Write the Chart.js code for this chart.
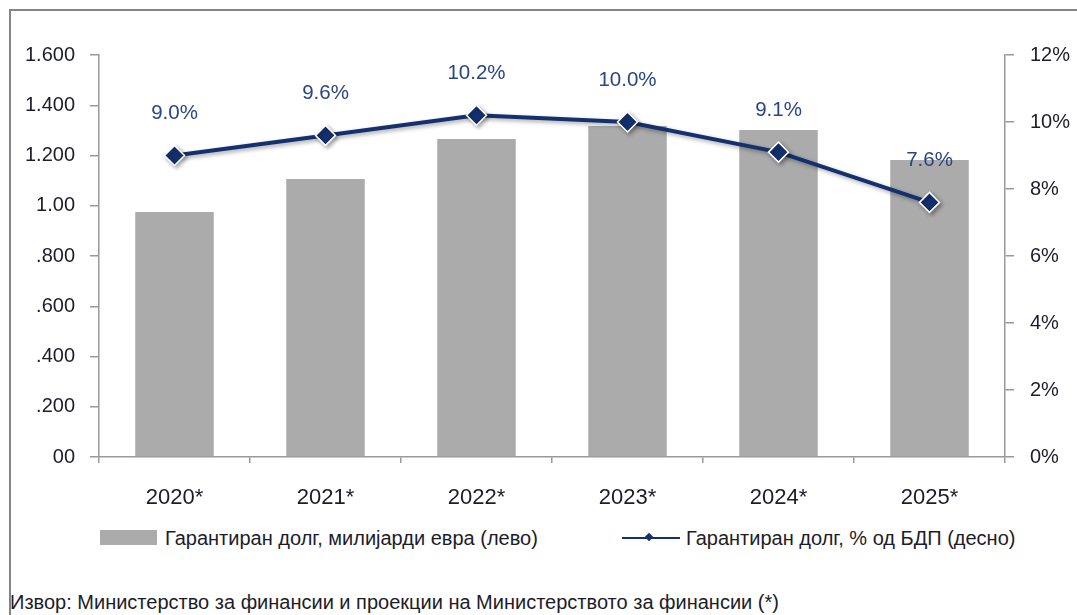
<!DOCTYPE html>
<html>
<head>
<meta charset="utf-8">
<script src="https://cdn.jsdelivr.net/npm/chart.js@4/dist/chart.umd.min.js"></script>
<style>
  body { margin: 0; background: #fff; width: 1077px; height: 615px; overflow: hidden; position: relative; }
  #frame { position: absolute; left: 9px; top: 9px; width: 1100px; height: 700px; border-left: 2px solid #858585; border-top: 2px solid #858585; }
  #chartDolg { position: absolute; left: 0; top: 0; }
  .txt { position: absolute; font-family: 'Liberation Sans Narrow', 'Liberation Sans', Arial, sans-serif; color: #1c1c2a; white-space: nowrap; }
  .swatch { position: absolute; }
</style>
</head>
<body>
<div id="frame"></div>
<canvas id="chartDolg" width="1077" height="517"></canvas>

<div class="swatch" style="left:100px;top:530px;width:57px;height:15px;background:#ababab;"></div>
<div class="txt" id="leg1" style="left:165px;top:527px;font-size:20px;">Гарантиран долг, милијарди евра (лево)</div>
<div class="swatch" style="left:622px;top:537px;width:58px;height:2px;background:#14306e;"></div>
<div class="swatch" style="left:646px;top:534px;width:6px;height:6px;background:#14306e;transform:rotate(45deg);"></div>
<div class="txt" id="leg2" style="left:686px;top:527px;font-size:20px;">Гарантиран долг, % од БДП (десно)</div>
<div class="txt" id="src" style="left:10px;top:591px;font-size:20px;">Извор: Министерство за финансии и проекции на Министерството за финансии (*)</div>

<script>
var years = ["2020*", "2021*", "2022*", "2023*", "2024*", "2025*"];
var dolgEvra = [975, 1106, 1266, 1317, 1301, 1182];
var dolgBdp = [9.0, 9.6, 10.2, 10.0, 9.1, 7.6];
var leftTicks = ["00", ".200", ".400", ".600", ".800", "1.00", "1.200", "1.400", "1.600"];

var fontFam = "'Liberation Sans Narrow', 'Liberation Sans', Arial, sans-serif";
var navy = "#14306e";

// labels above the points + soft shadow under the line
var pointLabels = {
  id: 'pointLabels',
  beforeDatasetDraw: function(chart, args) {
    if (args.index === 1) {
      var ctx = chart.ctx;
      ctx.save();
      ctx.shadowColor = 'rgba(0,0,0,0.35)';
      ctx.shadowBlur = 4;
      ctx.shadowOffsetX = 2;
      ctx.shadowOffsetY = 2;
    }
  },
  afterDatasetDraw: function(chart, args) {
    if (args.index === 1) chart.ctx.restore();
  },
  afterDatasetsDraw: function(chart) {
    var ctx = chart.ctx;
    var meta = chart.getDatasetMeta(1);
    ctx.save();
    ctx.font = "20.5px " + fontFam;
    ctx.fillStyle = "#2a4584";
    ctx.textAlign = "center";
    ctx.textBaseline = "middle";
    meta.data.forEach(function(pt, i) {
      ctx.fillText(dolgBdp[i].toFixed(1) + "%", pt.x, pt.y - 42);
    });
    ctx.restore();
  }
};

var densityCanvas = document.getElementById("chartDolg");

var comboChart = new Chart(densityCanvas, {
  type: 'bar',
  data: {
    labels: years,
    datasets: [{
      type: 'bar',
      label: 'Гарантиран долг, милијарди евра (лево)',
      data: dolgEvra,
      backgroundColor: '#ababab',
      categoryPercentage: 1,
      barPercentage: 0.52,
      yAxisID: 'y',
      order: 2
    }, {
      type: 'line',
      label: 'Гарантиран долг, % од БДП (десно)',
      data: dolgBdp,
      borderColor: navy,
      borderWidth: 4,
      backgroundColor: navy,
      pointStyle: 'rectRot',
      pointRadius: 10,
      pointBorderColor: '#ffffff',
      pointBorderWidth: 1.5,
      tension: 0,
      yAxisID: 'y1',
      order: 1
    }]
  },
  options: {
    responsive: false,
    animation: false,
    events: [],
    layout: { padding: { top: 55, left: 0, right: 0, bottom: 0 } },
    plugins: { legend: { display: false }, tooltip: { enabled: false } },
    scales: {
      x: {
        afterFit: function(s) { s.height = 60; },
        grid: { offset: true, drawOnChartArea: false, tickLength: 6, tickColor: '#999', lineWidth: 1.5 },
        border: { color: '#999', width: 1.5 },
        ticks: { padding: 22, color: '#1c1c2a', font: { family: fontFam, size: 22 } }
      },
      y: {
        position: 'left',
        min: 0, max: 1600,
        afterFit: function(s) { s.width = 99; },
        grid: { drawOnChartArea: false, tickLength: 9, tickColor: '#999', lineWidth: 1.5 },
        border: { color: '#999', width: 1.5 },
        ticks: {
          stepSize: 200, padding: 15, color: '#1c1c2a',
          font: { family: fontFam, size: 20 },
          callback: function(v, i) { return leftTicks[i]; }
        }
      },
      y1: {
        position: 'right',
        min: 0, max: 12,
        afterFit: function(s) { s.width = 72; },
        grid: { drawOnChartArea: false, tickLength: 9, tickColor: '#999', lineWidth: 1.5 },
        border: { color: '#999', width: 1.5 },
        ticks: {
          stepSize: 2, padding: 16, color: '#1c1c2a',
          font: { family: fontFam, size: 20 },
          callback: function(v) { return v + '%'; }
        }
      }
    }
  },
  plugins: [pointLabels]
});
</script>
</body>
</html>
